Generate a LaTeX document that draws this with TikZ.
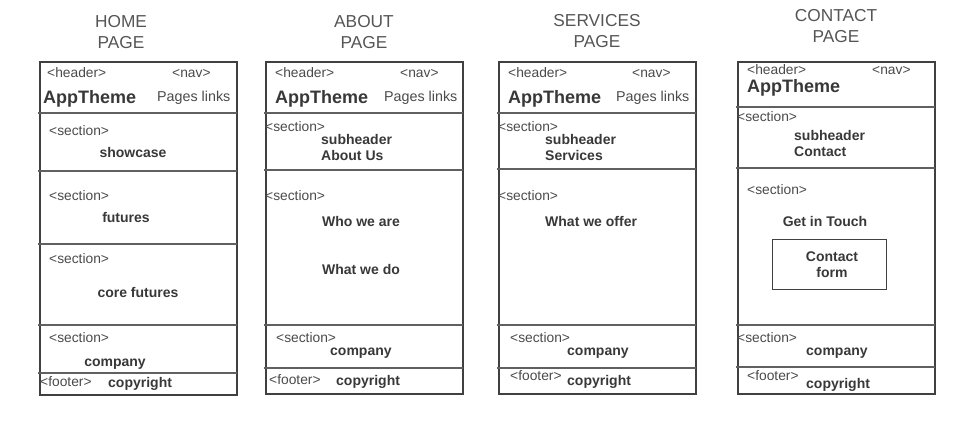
\documentclass[tikz,border=0pt]{standalone}
\usepackage{fontspec}
\setmainfont{Liberation Sans}
\definecolor{framec}{HTML}{404040}
\definecolor{sepc}{HTML}{606060}
\definecolor{tagc}{HTML}{4A4A4A}
\definecolor{lblc}{HTML}{383838}
\definecolor{titlec}{HTML}{555555}
\begin{document}
\begin{tikzpicture}[x=1pt,y=-1pt,
  frame/.style={draw=framec,line width=1.6pt},
  sep/.style={draw=sepc,line width=1.2pt},
  tag/.style={font=\fontsize{13.8}{14}\selectfont,text=tagc,inner sep=0pt,anchor=west,text height=12pt,text depth=1pt},
  lbl/.style={font=\bfseries\fontsize{14}{16}\selectfont,text=lblc,inner sep=0pt,text height=12pt,text depth=1pt},
  lblw/.style={lbl,anchor=west},
  brand/.style={font=\bfseries\fontsize{18}{20}\selectfont,text=lblc,inner sep=0pt,anchor=west,text height=14pt,text depth=1pt},
  links/.style={font=\fontsize{14.3}{16}\selectfont,text=tagc,inner sep=0pt,anchor=west,text height=12pt,text depth=1pt},
  ptitle/.style={font=\fontsize{17.3}{21}\selectfont,text=titlec,align=center,inner sep=0pt},
  formbox/.style={draw=framec,line width=0.9pt,minimum width=114pt,minimum height=50pt,inner sep=0pt},
  formtxt/.style={align=center,inner sep=0pt,font=\bfseries\fontsize{14}{16}\selectfont,text=lblc}]
\useasboundingbox (0,0) rectangle (973,430);
% ---------------- HOME ----------------
\node[ptitle] (homeT) at (121,32) {HOME\\ PAGE};
\draw[frame] (40,62) rectangle (237,395);
\foreach \y in {113,171,244,325,373} \draw[sep] (38,\y) -- (237,\y);
\node[tag] (hHead) at (47,72) {<header>};
\node[tag] (hNav) at (172,72) {<nav>};
\node[brand] (hApp) at (43,97) {AppTheme};
\node[links] (hLinks) at (157,96) {Pages links};
\node[tag] (hS1) at (49,130) {<section>};
\node[lbl] (hShow) at (133,152) {showcase};
\node[tag] (hS2) at (49,195) {<section>};
\node[lbl] (hFut) at (126,217) {futures};
\node[tag] (hS3) at (49,258) {<section>};
\node[lbl] (hCore) at (138,292) {core futures};
\node[tag] (hS4) at (49,337) {<section>};
\node[lbl] (hComp) at (115,361) {company};
\node[tag] (hFoot) at (40,381) {<footer>};
\node[lblw] (hCopy) at (108,382) {copyright};
% ---------------- ABOUT ----------------
\node[ptitle] (aboutT) at (364,32) {ABOUT\\ PAGE};
\draw[frame] (266,62) rectangle (463,394);
\foreach \y in {113,170,325,368} \draw[sep] (264,\y) -- (463,\y);
\node[tag] (aHead) at (275,72) {<header>};
\node[tag] (aNav) at (400,72) {<nav>};
\node[brand] (aApp) at (275,97) {AppTheme};
\node[links] (aLinks) at (384,96) {Pages links};
\node[tag] (aS1) at (265,126) {<section>};
\node[lblw] (aSub) at (321,139) {subheader};
\node[lblw] (aUs) at (321,155) {About Us};
\node[tag] (aS2) at (265,195) {<section>};
\node[lbl] (aWho) at (361,221) {Who we are};
\node[lbl] (aWhat) at (361,269) {What we do};
\node[tag] (aS3) at (276,337) {<section>};
\node[lblw] (aComp) at (330,350) {company};
\node[tag] (aFoot) at (269,379) {<footer>};
\node[lblw] (aCopy) at (336,380) {copyright};
% ---------------- SERVICES ----------------
\node[ptitle] (servT) at (597,31) {SERVICES\\ PAGE};
\draw[frame] (499,62) rectangle (696,394);
\foreach \y in {113,169,325,368} \draw[sep] (497,\y) -- (696,\y);
\node[tag] (sHead) at (508,72) {<header>};
\node[tag] (sNav) at (632,72) {<nav>};
\node[brand] (sApp) at (508,97) {AppTheme};
\node[links] (sLinks) at (616,96) {Pages links};
\node[tag] (sS1) at (498,126) {<section>};
\node[lblw] (sSub) at (545,139) {subheader};
\node[lblw] (sServ) at (545,155) {Services};
\node[tag] (sS2) at (498,195) {<section>};
\node[lblw] (sOffer) at (545,221) {What we offer};
\node[tag] (sS3) at (510,337) {<section>};
\node[lblw] (sComp) at (567,350) {company};
\node[tag] (sFoot) at (510,375) {<footer>};
\node[lblw] (sCopy) at (567,380) {copyright};
% ---------------- CONTACT ----------------
\node[ptitle] (contT) at (836,26) {CONTACT\\ PAGE};
\draw[frame] (738,62) rectangle (935,394);
\foreach \y in {107,168,325,367} \draw[sep] (736,\y) -- (935,\y);
\node[tag] (cHead) at (747,69) {<header>};
\node[tag] (cNav) at (872,69) {<nav>};
\node[brand] (cApp) at (747,86) {AppTheme};
\node[tag] (cS1) at (737,116) {<section>};
\node[lblw] (cSub) at (794,135) {subheader};
\node[lblw] (cCont) at (794,151) {Contact};
\node[tag] (cS2) at (747,189) {<section>};
\node[lbl] (cTouch) at (825,221) {Get in Touch};
\node[formbox] (cForm) at (829,264) {};
\node[formtxt] (cFormTxt) at (832,265) {Contact\\ form};
\node[tag] (cS3) at (737,337) {<section>};
\node[lblw] (cComp) at (806,350) {company};
\node[tag] (cFoot) at (747,375) {<footer>};
\node[lblw] (cCopy) at (806,383) {copyright};
\end{tikzpicture}
\end{document}
